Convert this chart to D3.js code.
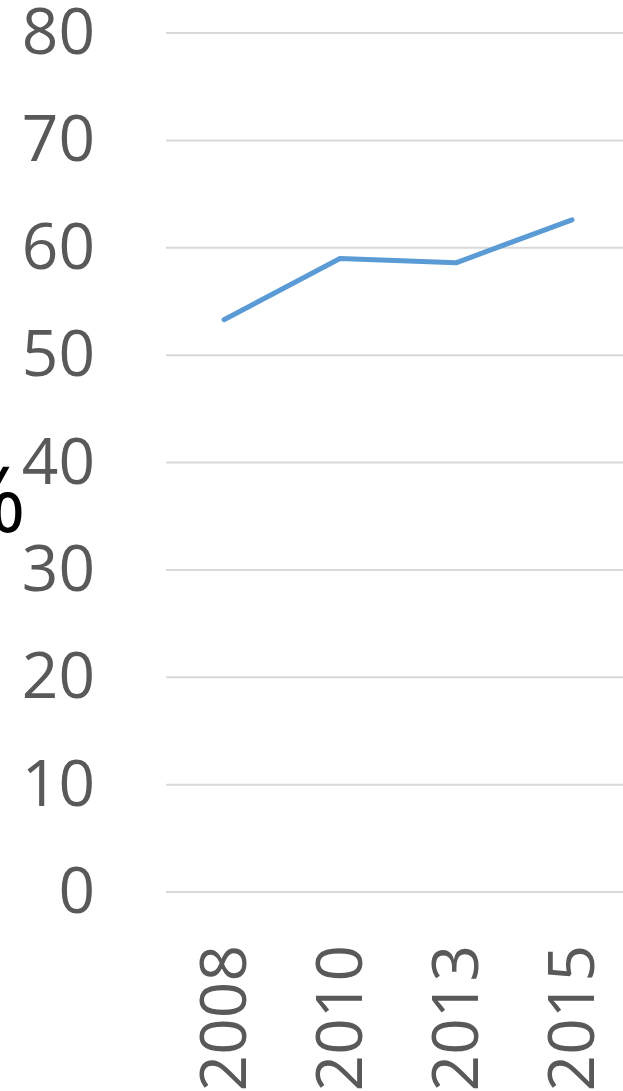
<!DOCTYPE html>
<html>
<head>
<meta charset="utf-8">
<script src="https://cdn.jsdelivr.net/npm/d3@7"></script>
<style>
  body { margin: 0; background: #fff; }
  text { font-family: "Open Sans", "Noto Sans", sans-serif; }
</style>
</head>
<body>
<div id="chart"></div>
<script>
var years = ["2008", "2010", "2013", "2015"];
var values = [53.3, 59.0, 58.6, 62.6];
var yTicks = [0, 10, 20, 30, 40, 50, 60, 70, 80];

var width = 623,
    height = 1091;

var svg = d3.select("#chart")
    .append("svg")
    .attr("width", width)
    .attr("height", height);

var x = d3.scalePoint().domain(years).range([224, 572]);
var y = d3.scaleLinear().domain([0, 80]).range([892, 33]);

// gridlines
svg.selectAll(".grid")
    .data(yTicks)
    .enter().append("line")
    .attr("class", "grid")
    .attr("x1", 166)
    .attr("x2", width)
    .attr("y1", function (d) { return y(d); })
    .attr("y2", function (d) { return y(d); })
    .attr("stroke", "#d9d9d9")
    .attr("stroke-width", 2);

// y labels
svg.selectAll(".ylab")
    .data(yTicks)
    .enter().append("text")
    .attr("class", "ylab")
    .attr("x", 95)
    .attr("y", function (d) { return y(d); })
    .attr("dy", "0.33em")
    .attr("text-anchor", "end")
    .attr("fill", "#595959")
    .attr("font-size", 64)
    .text(function (d) { return d; });

// x labels, rotated
svg.selectAll(".xlab")
    .data(years)
    .enter().append("text")
    .attr("class", "xlab")
    .attr("transform", function (d) {
        return "translate(" + x(d) + ",945) rotate(-90)";
    })
    .attr("dy", "0.35em")
    .attr("text-anchor", "end")
    .attr("fill", "#595959")
    .attr("font-size", 64)
    .text(function (d) { return d; });

// axis title (partly off the left edge, as in the original)
svg.append("text")
    .attr("x", 26)
    .attr("y", 532)
    .attr("text-anchor", "end")
    .attr("fill", "#000")
    .attr("font-size", 92)
    .text("%");

var line = d3.line()
    .x(function (d, i) { return x(years[i]); })
    .y(function (d) { return y(d); });

svg.append("path")
    .datum(values)
    .attr("d", line)
    .attr("fill", "none")
    .attr("stroke", "#5b9bd5")
    .attr("stroke-width", 5)
    .attr("stroke-linecap", "round")
    .attr("stroke-linejoin", "round");
</script>
</body>
</html>
